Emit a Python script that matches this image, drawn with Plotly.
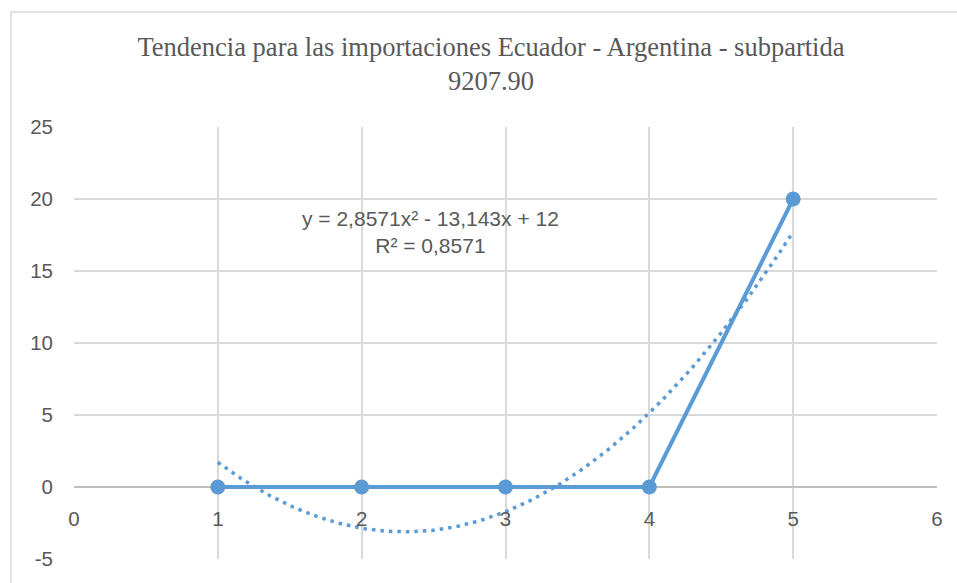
import numpy as np
import plotly.graph_objects as go

# Data
x_values = [1, 2, 3, 4, 5]
y_values = [0, 0, 0, 0, 20]
x_ticks = [0, 1, 2, 3, 4, 5, 6]
y_ticks = [-5, 0, 5, 10, 15, 20, 25]
y_tick_labels = ["-5", "0", "5", "10", "15", "20", "25"]
title_text = "Tendencia para las importaciones Ecuador - Argentina - subpartida<br>9207.90"

# Polynomial (order 2) trendline fitted from the data
coef = np.polyfit(x_values, y_values, 2)
poly = np.poly1d(coef)
fit_vals = poly(np.array(x_values))
ss_res = np.sum((np.array(y_values) - fit_vals) ** 2)
ss_tot = np.sum((np.array(y_values) - np.mean(y_values)) ** 2)
r2 = 1 - ss_res / ss_tot
trend_x = np.linspace(min(x_values), max(x_values), 200)
trend_y = poly(trend_x)

def fmt(v, sig):
    return f"{v:.{sig}g}".replace(".", ",")

a, b, c = coef
eq_text = (f"y = {fmt(a,5)}x² {'-' if b < 0 else '+'} {fmt(abs(b),5)}x "
           f"{'-' if c < 0 else '+'} {fmt(abs(c),5)}<br>R² = {fmt(r2,4)}")

BLUE = "#5B9BD5"
GRID = "#D9D9D9"
TXT = "#595959"
SANS = "Liberation Sans, Arial, sans-serif"

fig = go.Figure()
fig.add_trace(go.Scatter(
    x=trend_x, y=trend_y, mode="lines",
    line=dict(color=BLUE, width=3.5, dash="3.5px,5px"),
    hoverinfo="skip", showlegend=False))
fig.add_trace(go.Scatter(
    x=x_values, y=y_values, mode="lines+markers",
    line=dict(color=BLUE, width=4),
    marker=dict(color=BLUE, size=15),
    showlegend=False))

# plot area pixel geometry
L, R, T, B = 74, 20, 127, 24
W, H = 957, 583
pw, ph = W - L - R, H - T - B

fig.update_layout(
    width=W, height=H,
    margin=dict(l=L, r=R, t=T, b=B),
    paper_bgcolor="white", plot_bgcolor="white",
    title=dict(text=title_text, x=(491 - L) / pw, xanchor="center",
               xref="paper", y=(H - 56) / H, yanchor="middle", yref="container",
               font=dict(family="Liberation Serif, Times New Roman, serif", size=26.5, color=TXT)),
    xaxis=dict(range=[0, 6], tickvals=x_ticks, showgrid=True, gridcolor=GRID, gridwidth=1.5,
               zeroline=False, showline=False, anchor="free", position=5 / 30,
               tickfont=dict(family=SANS, size=20.5, color=TXT), ticks="", ticklabelstandoff=17),
    yaxis=dict(range=[-5, 25], tickvals=y_ticks, ticktext=y_tick_labels,
               showgrid=True, gridcolor=GRID, gridwidth=1.5,
               zeroline=True, zerolinecolor="#BFBFBF", zerolinewidth=1.5,
               showline=False,
               tickfont=dict(family=SANS, size=20.5, color=TXT), ticks="", ticklabelstandoff=20),
    annotations=[dict(text=eq_text, x=(430 - L) / (pw / 6), y=(487 - 232) / (ph / 30),
                      xref="x", yref="y",
                      showarrow=False, align="center",
                      font=dict(family=SANS, size=21, color=TXT))],
    shapes=[dict(type="rect", xref="paper", yref="paper",
                 x0=(11 - L) / pw, x1=1.1, y0=(H - B - 12) / ph, y1=-0.2,
                 line=dict(color="#D9D9D9", width=1.5), layer="below")],
)
fig.write_html("out.html", config={"displayModeBar": False},
               post_script="document.body.style.margin='0';document.body.style.overflow='hidden';")
